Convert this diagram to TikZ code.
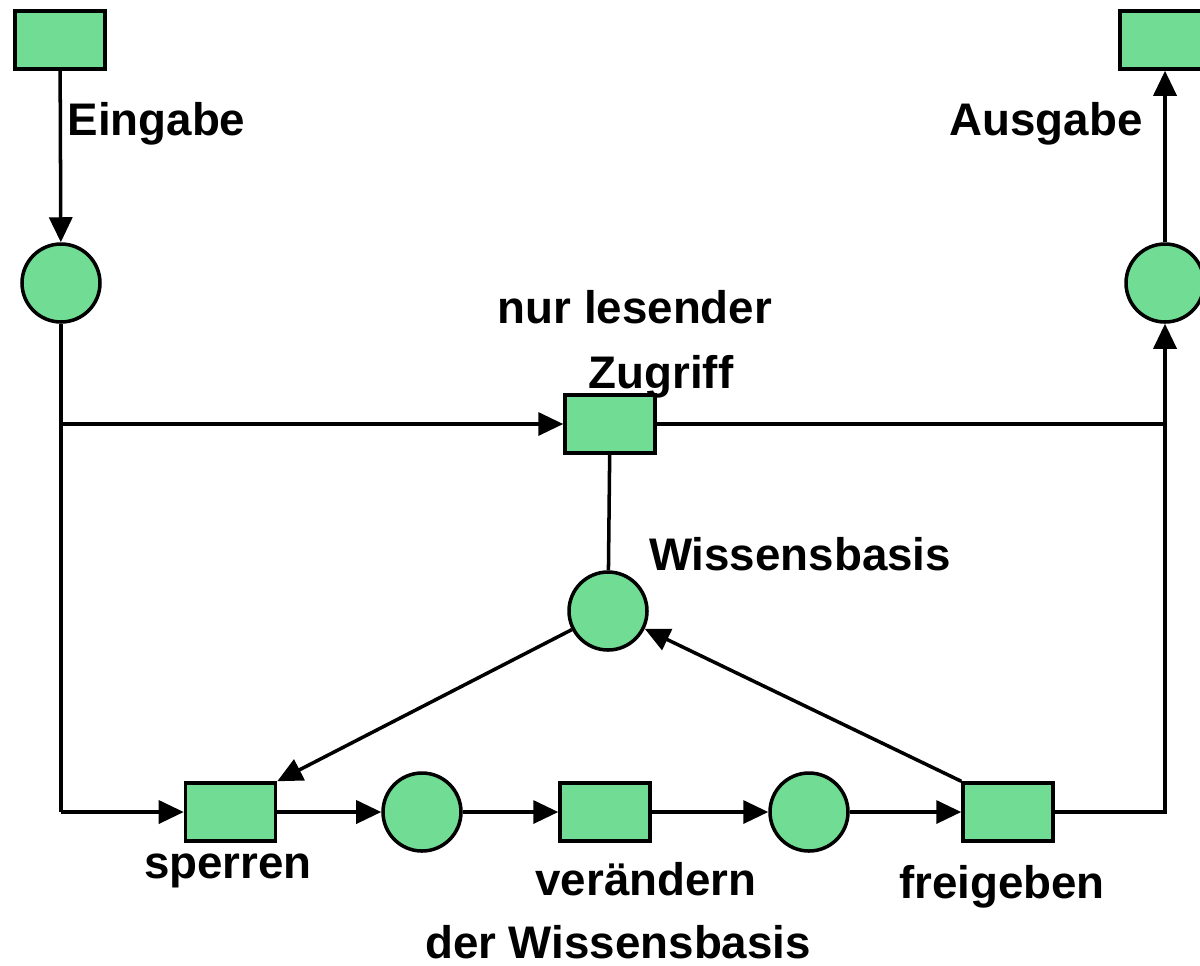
\documentclass[tikz,border=0pt]{standalone}
\usepackage{fontspec}
\setmainfont{Liberation Sans}
\usetikzlibrary{arrows.meta}

\definecolor{netgreen}{RGB}{112,220,148}

\begin{document}
\begin{tikzpicture}[
    line width=2pt,
    transition/.style={rectangle, draw, fill=netgreen, minimum width=1.8cm, minimum height=1.16cm},
    place/.style={circle, draw, fill=netgreen, minimum size=1.56cm},
    flow/.style={-{Triangle[length=0.5cm,width=0.46cm]}},
    lbl/.style={anchor=base, font=\fontsize{26}{30}\selectfont\bfseries}
  ]
        \useasboundingbox (0,0) rectangle (24,-19.3);

        % Input and output transitions
        \node[transition] (ein) at (1.20,-0.80) {};
        \node[transition] (aus) at (23.30,-0.80) {};

        % Input and output places
        \node[place] (pin) at (1.22,-5.66) {};
        \node[place] (pout) at (23.30,-5.66) {};

        % Read-only access
        \node[transition] (zugriff) at (12.20,-8.48) {};

        % Knowledge base place
        \node[place] (wb) at (12.16,-12.22) {};

        % Lower chain: lock, modify, release
        \node[transition] (sperren) at (4.61,-16.24) {};
        \node[place] (p1) at (8.44,-16.24) {};
        \node[transition] (veraendern) at (12.10,-16.24) {};
        \node[place] (p2) at (16.18,-16.24) {};
        \node[transition] (freigeben) at (20.16,-16.24) {};

        % Labels
        \node[lbl] (l1) at (3.13,-2.70) {Eingabe};
        \node[lbl] (l2) at (20.92,-2.70) {Ausgabe};
        \node[lbl] (l3) at (12.70,-6.46) {nur lesender};
        \node[lbl] (l4) at (13.22,-7.76) {Zugriff};
        \node[lbl] (l5) at (16.00,-11.40) {Wissensbasis};
        \node[lbl] (l6) at (4.56,-17.56) {sperren};
        \node[lbl] (l7) at (12.92,-17.90) {verändern};
        \node[lbl] (l8) at (12.36,-19.16) {der Wissensbasis};
        \node[lbl] (l9) at (20.04,-17.96) {freigeben};

        % Junctions
        \coordinate (split) at (pin |- zugriff.west);
        \coordinate (corner) at (pin |- sperren.west);
        \coordinate (join) at (pout |- zugriff.east);

        % Connectors
        \draw[flow] (ein) -- (pin);
        \draw (pin) -- (corner);
        \draw[flow] (corner) -- (sperren);
        \draw[flow] (split) -- (zugriff);
        \draw (zugriff) -- (join);
        \draw[flow] (freigeben.east) -| (pout);
        \draw[flow] (pout) -- (aus);
        \draw (zugriff) -- (wb);
        \draw[flow] (wb) -- (sperren.north east);
        \draw[flow] (freigeben.north west) -- (wb);
        \draw[flow] (sperren) -- (p1);
        \draw[flow] (p1) -- (veraendern);
        \draw[flow] (veraendern) -- (p2);
        \draw[flow] (p2) -- (freigeben);
    \end{tikzpicture}
\end{document}
